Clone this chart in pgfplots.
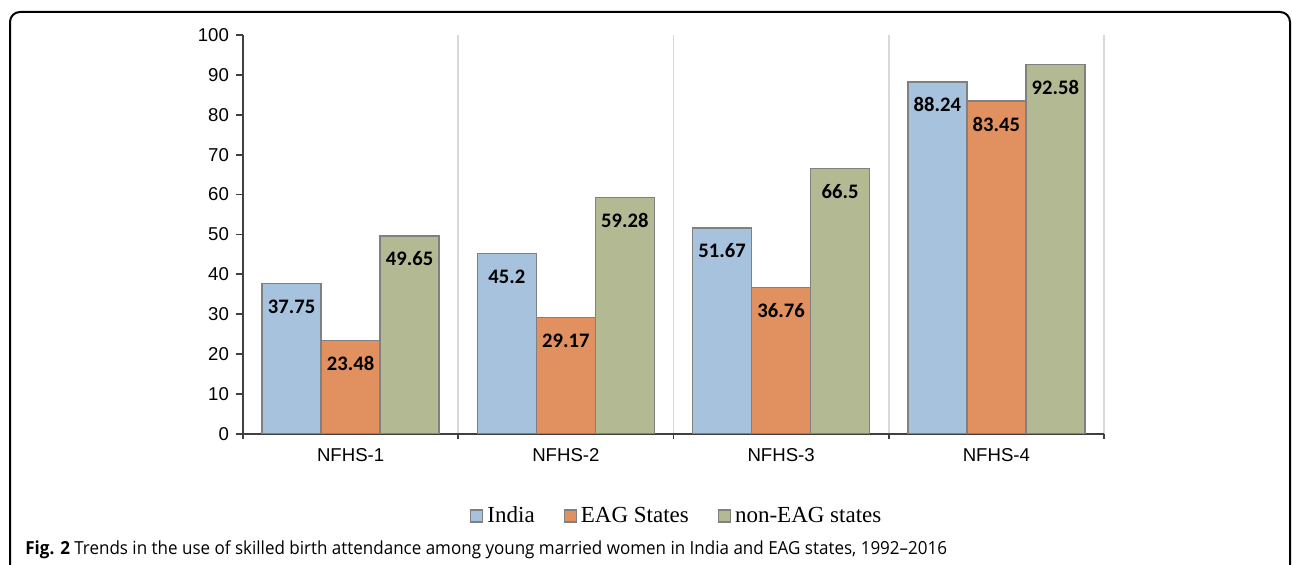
\documentclass[border=0pt]{standalone}
\usepackage{pgfplots}
\pgfplotsset{compat=1.18}
\usepackage{fontspec}
\setmainfont{Liberation Sans}
\newfontfamily\labelfont{Carlito}
\newfontfamily\legendfont{Liberation Serif}
\newfontfamily\captionfont[FakeStretch=0.945]{Open Sans}

\definecolor{indiablue}{HTML}{A6C2DC}
\definecolor{eagorange}{HTML}{E0915F}
\definecolor{noneagolive}{HTML}{B3B992}
\definecolor{baredge}{HTML}{808080}
\definecolor{axisgrey}{HTML}{404040}
\definecolor{sepgrey}{HTML}{D9D9D9}

\begin{document}
\begin{tikzpicture}
\useasboundingbox (0,0) rectangle (646pt,-282.5pt);
% open frame around the figure
\draw[line width=1pt, rounded corners=5pt]
  (5pt,-282.5pt) -- (5pt,-6pt) -- (645pt,-6pt) -- (645pt,-282.5pt);
\begin{axis}[
  at={(121.5pt,-217pt)}, anchor=south west,
  scale only axis, width=430.5pt, height=199.5pt,
  xmin=0, xmax=4, ymin=0, ymax=100,
  axis lines*=left,
  axis line style={line width=1.1pt, color=axisgrey},
  ybar=0pt, bar width=29.5pt,
  ytick={0,10,...,100},
  xtick={0.5,1.5,2.5,3.5},
  xticklabels={NFHS-1,NFHS-2,NFHS-3,NFHS-4},
  minor xtick={0,1,2,3,4},
  xminorgrids,
  minor grid style={line width=0.8pt, color=sepgrey},
  tick align=outside,
  major tick length=3.5pt,
  minor tick length=2.5pt,
  tick style={line width=0.9pt, color=axisgrey},
  major x tick style={draw=none},
  tick label style={font=\fontsize{9.3}{11}\selectfont},
  /pgf/number format/assume math mode=true,
  nodes near coords,
  nodes near coords style={font=\labelfont\bfseries\fontsize{10.3}{12}\selectfont,
    anchor=center, yshift=-11.5pt, color=black},
  legend columns=3,
  legend style={at={(0.505,-0.2055)}, anchor=center, draw=none,
    font=\legendfont\fontsize{11.5}{13}\selectfont,
    /tikz/every even column/.append style={column sep=12.5pt}},
  legend image code/.code={\draw[#1, line width=0.6pt] (0pt,-3pt) rectangle (6pt,3pt);},
]
\addplot[fill=indiablue, draw=baredge, line width=0.8pt]
  coordinates {(0.5,37.75) (1.5,45.2) (2.5,51.67) (3.5,88.24)};
\addplot[fill=eagorange, draw=baredge, line width=0.8pt]
  coordinates {(0.5,23.48) (1.5,29.17) (2.5,36.76) (3.5,83.45)};
\addplot[fill=noneagolive, draw=baredge, line width=0.8pt]
  coordinates {(0.5,49.65) (1.5,59.28) (2.5,66.5) (3.5,92.58)};
\legend{India, EAG States, non-EAG states}
\end{axis}
\node[anchor=west, inner sep=0pt] at (12.5pt,-275pt)
  {\captionfont\fontsize{9}{11}\selectfont\textbf{Fig. 2} Trends in the use of skilled birth attendance among young married women in India and EAG states, 1992–2016};
\end{tikzpicture}
\end{document}
